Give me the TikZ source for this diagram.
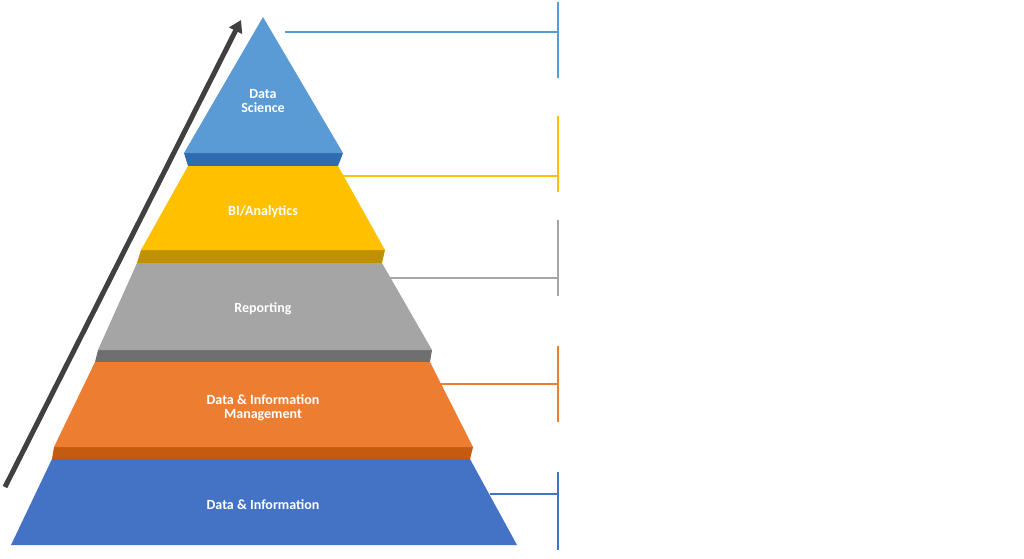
\documentclass[tikz,border=0pt]{standalone}
\usepackage{fontspec}
\setmainfont{Carlito}
\usetikzlibrary{arrows.meta}
\definecolor{dsc}{HTML}{5B9BD5}\definecolor{dsd}{HTML}{2E6BB0}
\definecolor{bic}{HTML}{FFC000}\definecolor{bid}{HTML}{BF9000}
\definecolor{rpc}{HTML}{A5A5A5}\definecolor{rpd}{HTML}{6F6F6F}
\definecolor{orc}{HTML}{ED7D31}\definecolor{ord}{HTML}{C55A11}
\definecolor{blc}{HTML}{4472C4}\definecolor{arr}{HTML}{404040}
\begin{document}
\begin{tikzpicture}[x=1pt,y=-1pt,
  lbl/.style={text=white,font=\bfseries\fontsize{14}{16}\selectfont,align=center},
  conn/.style={line width=2.5pt}]
\useasboundingbox (0,0) rectangle (1024,558);
% bands
\fill[dsd] (184,153)--(343,153)--(338,166)--(188,166)--cycle;
\fill[bid] (141,250)--(385,250)--(382,263)--(137,263)--cycle;
\fill[rpd] (98,350)--(432,350)--(430,362)--(95,362)--cycle;
\fill[ord] (54,447)--(473,447)--(470,459)--(52,459)--cycle;
% layers
\fill[dsc] (263,17)--(343,153)--(184,153)--cycle;
\fill[bic] (188,166)--(338,166)--(385,250)--(141,250)--cycle;
\fill[rpc] (137,263)--(382,263)--(432,350)--(98,350)--cycle;
\fill[orc] (95,362)--(430,362)--(473,447)--(54,447)--cycle;
\fill[blc] (52,459)--(470,459)--(517,545)--(11,545)--cycle;
% labels
\node[lbl] (ds) at (263,101) {Data\\[-2pt]Science};
\node[lbl] (bi) at (263,212) {BI/Analytics};
\node[lbl] (rp) at (263,309) {Reporting};
\node[lbl] (dm) at (263,408) {Data \& Information\\[-2pt]Management};
\node[lbl] (di) at (263,505) {Data \& Information};
% connectors
\coordinate (a1) at (285,32); \coordinate (b1) at (558,32);
\coordinate (a2) at (343,176); \coordinate (b2) at (558,176);
\coordinate (a3) at (390,278); \coordinate (b3) at (558,278);
\coordinate (a4) at (437,384); \coordinate (b4) at (558,384);
\coordinate (a5) at (490,494); \coordinate (b5) at (558,494);
\draw[conn,dsc] (a1)--(b1); \draw[conn,dsc] (558,2)--(558,78);
\draw[conn,bic] (a2)--(b2); \draw[conn,bic] (558,116)--(558,192);
\draw[conn,rpc] (a3)--(b3); \draw[conn,rpc] (558,220)--(558,296);
\draw[conn,orc] (a4)--(b4); \draw[conn,orc] (558,346)--(558,422);
\draw[conn,blc] (a5)--(b5); \draw[conn,blc] (558,472)--(558,550);
% arrow
\coordinate (s) at (5,487); \coordinate (e) at (241,20);
\draw[arr,line width=5pt,-{Triangle[length=12pt,width=14pt]}] (s)--(e);
\end{tikzpicture}
\end{document}
